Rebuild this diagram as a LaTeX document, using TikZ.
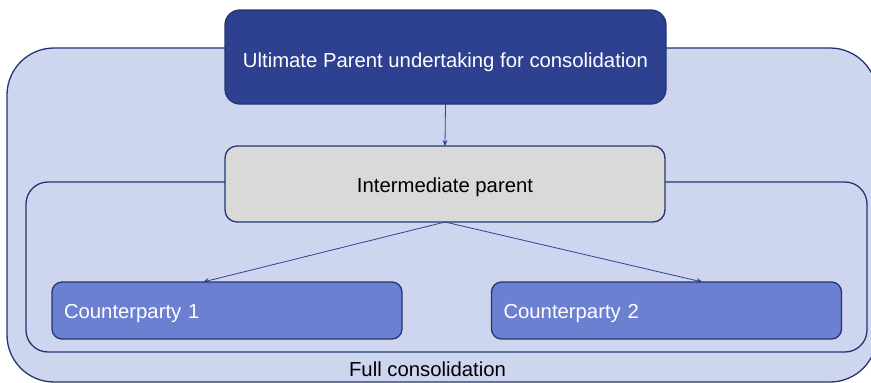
\documentclass[tikz,border=0pt]{standalone}
\usepackage{fontspec}
\setmainfont{Liberation Sans}
\usetikzlibrary{arrows.meta,calc}
\definecolor{navy}{HTML}{24356F}
\definecolor{bgfill}{HTML}{CED6EF}
\definecolor{topfill}{HTML}{2E4190}
\definecolor{cpfill}{HTML}{6B80D1}
\definecolor{midfill}{HTML}{D9D9D9}
\definecolor{arrowc}{HTML}{2F4295}
\begin{document}
\begin{tikzpicture}[x=1pt,y=-1pt,
  every node/.style={font=\fontsize{20.3}{24}\selectfont, outer sep=0pt, text height=18pt, text depth=2pt},
  grp/.style={draw=navy, line width=1.3pt, fill=bgfill},
  ultbox/.style={draw=navy, line width=1.3pt, fill=topfill, text=white, rounded corners=15pt, minimum width=441pt, minimum height=94pt, text height=20pt, text depth=0pt},
  midbox/.style={draw=navy, line width=1.3pt, fill=midfill, text=black, rounded corners=12pt, minimum width=440pt, minimum height=76pt},
  cpbox/.style={draw=navy, line width=1.3pt, fill=cpfill, text=white, rounded corners=10pt, minimum height=57pt, text width=326pt, inner xsep=12pt, align=left},
  conn/.style={draw=arrowc, line width=0.8pt, -{Stealth[length=6pt,width=5pt]}}
]
\useasboundingbox (0,0) rectangle (871,383);
% outer group
\draw[grp, rounded corners=47pt] (7,48) rectangle (877,382);
% inner group
\draw[grp, rounded corners=22pt] (26,182) rectangle (867,352);
\node (full) at (427.5,368) {Full consolidation};
% nodes
\node[ultbox] (ult) at (445.5,57) {Ultimate Parent undertaking for consolidation};
\node[midbox] (mid) at (445,184) {Intermediate parent};
\node[cpbox] (cp1) at (227,310.5) {Counterparty 1};
\node[cpbox] (cp2) at (666.5,310.5) {Counterparty 2};
% connectors
\draw[conn] (ult.south) -- (mid.north);
\draw[conn] (mid.south) -- ($(cp1.north)+(-24,0)$);
\draw[conn] (mid.south) -- ($(cp2.north)+(36,0)$);
\end{tikzpicture}
\end{document}
